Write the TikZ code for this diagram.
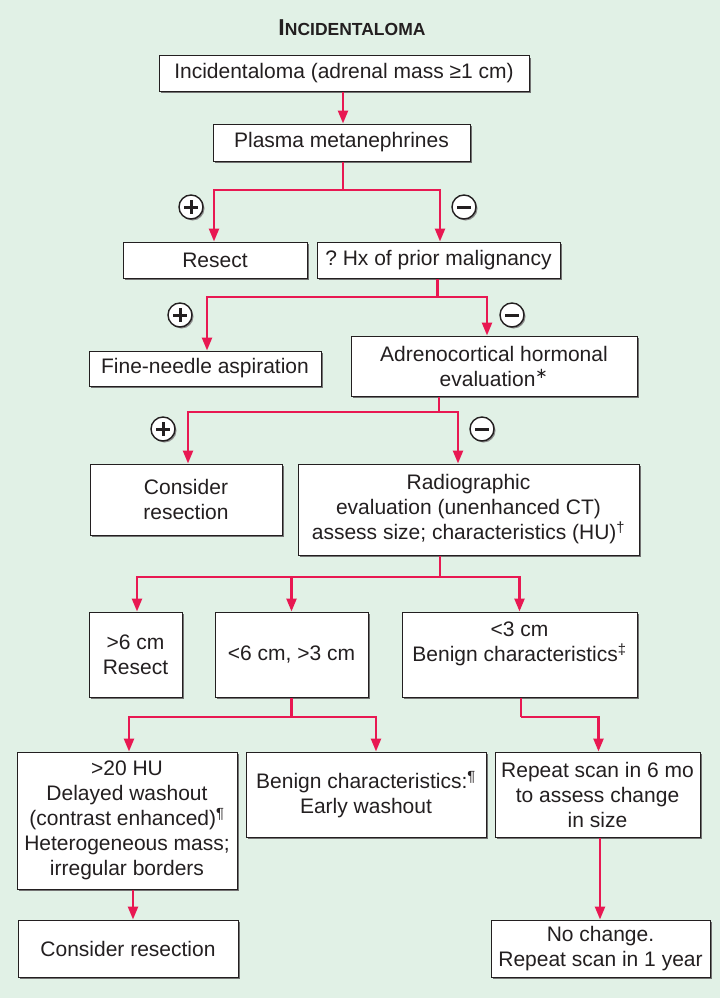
\documentclass[tikz,border=0pt]{standalone}
\usepackage{fontspec}
\setmainfont{Liberation Sans}
\newfontfamily\djvfont{DejaVu Sans}
\usetikzlibrary{arrows.meta,shadows}
\definecolor{bgg}{RGB}{225,241,230}
\definecolor{flowred}{RGB}{232,24,82}
\definecolor{ink}{RGB}{35,31,32}
\begin{document}
\begin{tikzpicture}[x=1pt,y=-1pt,
  box/.style={draw=ink, line width=1pt, fill=white, inner sep=0pt, align=center, text=ink,
    font=\fontsize{21}{25}\selectfont,
    drop shadow={shadow xshift=2pt,shadow yshift=-2pt,fill=black!55,opacity=1}},
  redline/.style={draw=flowred, line width=2.4pt},
  flow/.style={redline, -{Triangle[length=13pt,width=10pt]}},
  signcirc/.style={circle, draw=ink, line width=1.4pt, fill=white, minimum size=24pt, inner sep=0pt,
    drop shadow={shadow xshift=1.5pt,shadow yshift=-1.5pt,fill=black!45,opacity=1}},
  bar/.style={draw=ink, line width=3pt}
]
\fill[bgg] (0,0) rectangle (720,998);
\useasboundingbox (0,0) rectangle (720,998);

\node[text=ink, font=\bfseries] (title) at (352,28)
  {\fontsize{23}{23}\selectfont I\fontsize{17.5}{18}\selectfont NCIDENTALOMA};

\node[box, minimum width=370pt, minimum height=35pt] (b1) at (344,73.5) {Incidentaloma (adrenal mass ≥1 cm)};
\node[box, minimum width=257pt, minimum height=37pt] (b2) at (341.5,142.5) {Plasma metanephrines};
\node[box, minimum width=184pt, minimum height=36pt] (b3) at (215,260) {Resect};
\node[box, minimum width=243pt, minimum height=36pt] (b4) at (438.5,260) {?\ Hx of prior malignancy};
\node[box, minimum width=232pt, minimum height=35pt] (b5) at (205,368.5) {Fine-needle aspiration};
\node[box, minimum width=286pt, minimum height=60pt] (b6) at (494,366) {Adrenocortical hormonal\\evaluation\textsuperscript{\djvfont ∗}};
\node[box, minimum width=192pt, minimum height=71pt] (b7) at (186,499.5) {Consider\\resection};
\node[box, minimum width=341pt, minimum height=91pt] (b8) at (468.5,509.5) {Radiographic\\evaluation (unenhanced CT)\\assess size; characteristics (HU)\textsuperscript{†}};
\node[box, minimum width=93pt, minimum height=85pt] (b9) at (135.5,654.5) {>6 cm\\Resect};
\node[box, minimum width=153pt, minimum height=85pt] (b10) at (291.5,654.5) {<6 cm, >3 cm};
\node[box, minimum width=235pt, minimum height=85pt] (b11) at (519.5,654.5) {<3 cm\\Benign characteristics\textsuperscript{‡}\\\mbox{}};
\node[box, minimum width=220pt, minimum height=137pt] (b12) at (127,820.5) {>20 HU\\Delayed washout\\(contrast enhanced)\textsuperscript{¶}\\Heterogeneous mass;\\irregular borders};
\node[box, minimum width=240pt, minimum height=85pt] (b13) at (366,794.5) {Benign characteristics:\textsuperscript{¶}\\Early washout};
\node[box, minimum width=205pt, minimum height=85pt] (b14) at (597.5,794.5) {Repeat scan in 6 mo\\to assess change\\in size};
\node[box, minimum width=220pt, minimum height=57pt] (b15) at (128,948.5) {Consider resection};
\node[box, minimum width=219pt, minimum height=57pt] (b16) at (600.5,948.5) {No change.\\Repeat scan in 1 year};

% connectors
\draw[flow] ([xshift=-1pt]b1.south) -- ([xshift=-1pt]b1.south |- b2.north);

\coordinate (j1) at (343,190);
\draw[redline] (j1 |- b2.south) -- (j1);
\draw[flow] (j1) -| ([xshift=-1pt]b3.north);
\draw[flow] (j1) -| ([xshift=1.5pt]b4.north);

\coordinate (j2) at (437.5,297);
\draw[redline] (j2 |- b4.south) -- (j2);
\draw[flow] (j2) -| ([xshift=2pt]b5.north);
\draw[flow] (j2) -| ([xshift=-7pt]b6.north);

\coordinate (j3) at (439,412);
\draw[redline] (j3 |- b6.south) -- (j3);
\draw[flow] (j3) -| ([xshift=2pt]b7.north);
\draw[flow] (j3) -| ([xshift=-10.5pt]b8.north);

\coordinate (j4) at (440,577);
\draw[redline] (j4 |- b8.south) -- (j4);
\draw[flow] (j4) -| ([xshift=1.5pt]b9.north);
\draw[flow] (j4) -| (b10.north);
\draw[flow] (j4) -| (b11.north);

\coordinate (j5) at (291.5,717);
\draw[redline] (j5 |- b10.south) -- (j5);
\draw[flow] (j5) -| ([xshift=2pt]b12.north);
\draw[flow] (j5) -| ([xshift=10pt]b13.north);

\coordinate (j6) at (521,717);
\draw[redline] (j6 |- b11.south) -- (j6);
\draw[flow] (j6) -| ([xshift=1pt]b14.north);

\draw[flow] ([xshift=6pt]b12.south) -- ([xshift=6pt]b12.south |- b15.north);
\draw[flow] ([xshift=2.5pt]b14.south) -- ([xshift=2.5pt]b14.south |- b16.north);

% signs
\node[signcirc] (s1) at (191,207) {};
\node[signcirc] (s2) at (464,207) {};
\node[signcirc] (s3) at (180,315) {};
\node[signcirc] (s4) at (512,315) {};
\node[signcirc] (s5) at (163,429) {};
\node[signcirc] (s6) at (482,429) {};
\foreach \s in {s1,s3,s5} {
  \draw[bar] (\s.center) ++(-7,0) -- ++(14,0);
  \draw[bar] (\s.center) ++(0,-7) -- ++(0,14);
}
\foreach \s in {s2,s4,s6} {
  \draw[bar] (\s.center) ++(-7,0) -- ++(14,0);
}
\end{tikzpicture}
\end{document}
